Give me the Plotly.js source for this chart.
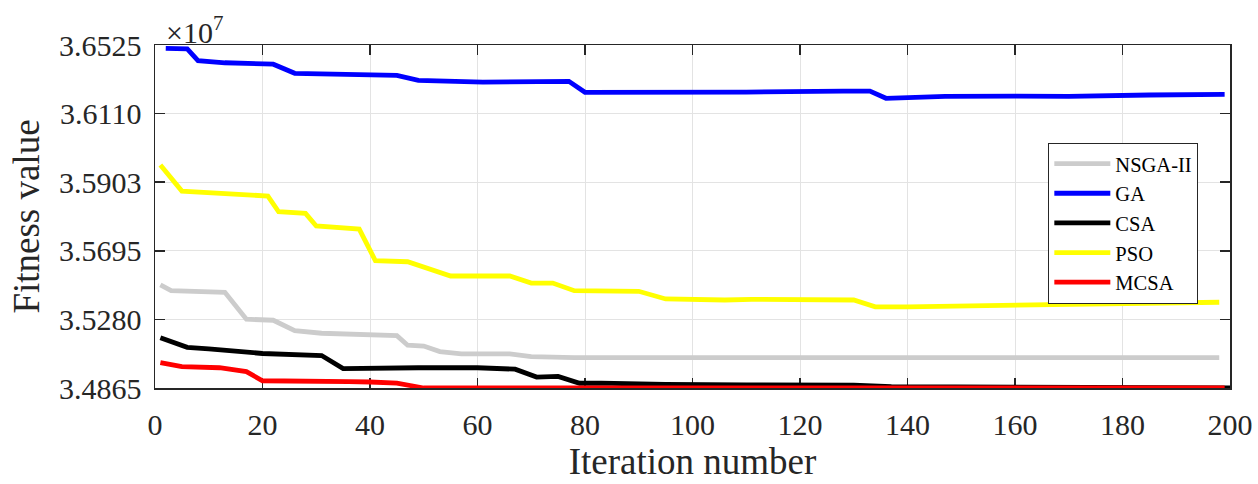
<!DOCTYPE html>
<html>
<head>
<meta charset="utf-8">
<script src="https://cdn.plot.ly/plotly-3.0.1.min.js"></script>
<style>html,body{margin:0;padding:0;background:#fff;}#chart{width:1258px;height:484px;}</style>
</head>
<body>
<div id="chart"></div>
<script>
// Y tick labels as printed on the chart (×10^7), placed at equal spacing
const yTickLabels = ["3.4865", "3.5280", "3.5695", "3.5903", "3.6110", "3.6525"];
const xTickVals = [0, 20, 40, 60, 80, 100, 120, 140, 160, 180, 200];

// Series (iteration, fitness in ×10^7 units on the axis' linear scale)
const nsgaX = [1, 3, 13, 17, 22, 26, 31, 45, 47, 50, 53, 57, 66, 70, 78, 198];
const nsgaY = [3.5364, 3.5336, 3.5328, 3.5198, 3.5193, 3.5142, 3.5130, 3.5118, 3.5072, 3.5068, 3.5041, 3.5030, 3.5030, 3.5017, 3.5012, 3.5012];

const gaX = [2, 6, 8, 13, 22, 26, 45, 49, 61, 77, 80, 90, 104, 106, 110, 128, 133, 136, 147, 160, 170, 185, 199];
const gaY = [3.6509, 3.6506, 3.6449, 3.6439, 3.6432, 3.6388, 3.6378, 3.6354, 3.6345, 3.6349, 3.6296, 3.6296, 3.6297, 3.6294, 3.6297, 3.6302, 3.6302, 3.6267, 3.6276, 3.6278, 3.6276, 3.6283, 3.6286];

const csaX = [1, 6, 10, 20, 31, 35, 49, 60, 67, 71, 75, 79, 83, 92, 95, 110, 130, 137, 160, 200];
const csaY = [3.5108, 3.5062, 3.5054, 3.5032, 3.5022, 3.4959, 3.4963, 3.4963, 3.4956, 3.4918, 3.4921, 3.4888, 3.4889, 3.4884, 3.4882, 3.4880, 3.4879, 3.4872, 3.4870, 3.4865];

const psoX = [1, 5, 21, 23, 28, 30, 38, 41, 47, 55, 66, 70, 74, 78, 90, 95, 106, 111, 130, 134, 140, 160, 180, 198];
const psoY = [3.5944, 3.5818, 3.5794, 3.5718, 3.5710, 3.5649, 3.5634, 3.5481, 3.5476, 3.5407, 3.5407, 3.5373, 3.5373, 3.5336, 3.5333, 3.5296, 3.5291, 3.5294, 3.5291, 3.5258, 3.5258, 3.5267, 3.5275, 3.5280];

const mcsaX = [1, 5, 12, 17, 20, 29, 36, 40, 45, 50, 199];
const mcsaY = [3.4988, 3.4968, 3.4963, 3.4944, 3.4900, 3.4900, 3.4896, 3.4894, 3.4889, 3.4865, 3.4865];

const yMin = 3.4865, yMax = 3.6525;
const yTickVals = yTickLabels.map((_, i) => yMin + i * (yMax - yMin) / (yTickLabels.length - 1));

const FONT = "Liberation Serif, Times New Roman, serif";
const TXT = "#262626";

function tr(name, x, y, color) {
  return {type: "scatter", mode: "lines", name: name, x: x, y: y,
          line: {color: color, width: 4.8}, cliponaxis: false};
}

const data = [
  tr("NSGA-II", nsgaX, nsgaY, "#cccccc"),
  tr("GA", gaX, gaY, "#0000ff"),
  tr("CSA", csaX, csaY, "#000000"),
  tr("PSO", psoX, psoY, "#ffff00"),
  tr("MCSA", mcsaX, mcsaY, "#ff0000")
];

const axisCommon = {
  showline: true, linecolor: TXT, linewidth: 1.5, mirror: "ticks",
  ticks: "inside", ticklen: 10, tickwidth: 1.5, tickcolor: TXT,
  showgrid: true, gridcolor: "#e3e3e3", gridwidth: 1,
  zeroline: false, layer: "below traces",
  tickfont: {family: FONT, size: 30, color: TXT}
};

const layout = {
  width: 1258, height: 484,
  margin: {l: 155, r: 28, t: 45, b: 96},
  paper_bgcolor: "#ffffff", plot_bgcolor: "#ffffff",
  showlegend: true,
  xaxis: Object.assign({}, axisCommon, {
    range: [0, 200], tickvals: xTickVals, ticklabelstandoff: 9,
    title: {text: "Iteration number", font: {family: FONT, size: 37, color: TXT}, standoff: 8}
  }),
  yaxis: Object.assign({}, axisCommon, {
    range: [yMin, yMax], tickvals: yTickVals, ticktext: yTickLabels, ticklabelstandoff: 6,
    title: {text: "Fitness value", font: {family: FONT, size: 37, color: TXT}, standoff: 8}
  }),
  legend: {
    x: 0.831, y: 0.715, xanchor: "left", yanchor: "top",
    bgcolor: "#ffffff", bordercolor: TXT, borderwidth: 1,
    font: {family: FONT, size: 20.5, color: "#000000"},
    tracegroupgap: 0, itemwidth: 56
  },
  annotations: [{
    xref: "paper", yref: "paper", x: 0.008, y: 1, xanchor: "left", yanchor: "bottom",
    text: "×10<sup>7</sup>", showarrow: false, yshift: -6,
    font: {family: FONT, size: 30, color: TXT}
  }]
};

Plotly.newPlot("chart", data, layout, {displayModeBar: false, staticPlot: true});
</script>
</body>
</html>
